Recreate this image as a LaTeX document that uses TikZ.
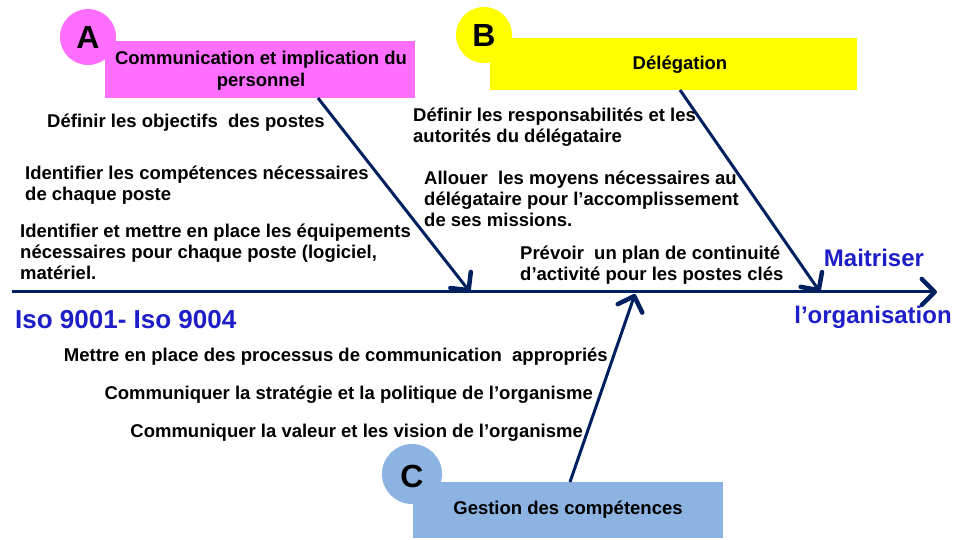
\documentclass[tikz,border=0pt]{standalone}
\usepackage{fontspec}
\setmainfont{Liberation Sans}
\usetikzlibrary{arrows.meta}
\definecolor{navy}{RGB}{0,32,96}
\definecolor{tblue}{RGB}{30,30,200}
\definecolor{pinkA}{RGB}{255,110,255}
\definecolor{yelB}{RGB}{255,255,0}
\definecolor{blueC}{RGB}{141,179,226}
\tikzset{
  bone/.style={navy,line width=3pt,-{Straight Barb[length=13pt,width=26pt,line width=4.5pt,round]}},
  txt/.style={inner sep=0pt,align=left,font=\bfseries\fontsize{18.5}{21}\selectfont},
  txtn/.style={inner sep=0pt,font=\bfseries\fontsize{18.5}{20}\selectfont},
  bluetxt/.style={inner sep=0pt,text=tblue,font=\bfseries\fontsize{24}{26}\selectfont},
  circ/.style={circle,inner sep=0pt,minimum size=56pt,font=\bfseries\fontsize{32}{32}\selectfont},
  boxtxt/.style={inner sep=0pt,align=center,font=\bfseries\fontsize{18.5}{22}\selectfont}
}
\begin{document}
\begin{tikzpicture}[x=1pt,y=-1pt]
\useasboundingbox[fill=white] (0,0) rectangle (978,540);
% circles
\node[circ,fill=pinkA,anchor=center] (cA) at (88,37) {};
\node[circ,fill=yelB] (cB) at (484,35) {};
\node[circ,fill=blueC,minimum size=60pt] (cC) at (412,474) {};
% boxes
\fill[pinkA] (105,41) rectangle (415,98);
\fill[yelB] (490,38) rectangle (857,90);
\fill[blueC] (413,482) rectangle (723,538);
\node[circ] (lA) at (88,37) {A};
\node[circ] (lB) at (484,35) {B};
\node[circ] (lC) at (412,476) {C};
\node[boxtxt] (tA) at (261,71) {Communication et implication du\\personnel};
\node[boxtxt] (tB) at (680,65) {Délégation};
\node[boxtxt] (tC) at (568,510) {Gestion des compétences};
\coordinate (bA) at (318,98);
\coordinate (bB) at (680,90);
\coordinate (bC) at (570,482);
% spine
\coordinate (s0) at (12,292);
\coordinate (s1) at (937,292);
\coordinate (hA) at (470,292);
\coordinate (hB) at (820,292);
\coordinate (hC) at (635,294);
\draw[bone] (s0) -- (s1);
\draw[bone] (bA) -- (hA);
\draw[bone] (bB) -- (hB);
\draw[bone] (bC) -- (hC);
% texts A
\node[txt,anchor=west] (a1) at (47,123) {Définir les objectifs~ des postes};
\node[txt,anchor=west] (a2) at (25,185.5) {Identifier les compétences nécessaires\\de chaque poste};
\node[txt,anchor=west] (a3) at (20,252) {Identifier et mettre en place les équipements\\nécessaires pour chaque poste (logiciel,\\matériel.};
% texts B
\node[txt,anchor=west] (b1) at (413,127) {Définir les responsabilités et les\\autorités du délégataire};
\node[txt,anchor=west] (b2) at (424,198.5) {Allouer~ les moyens nécessaires au\\délégataire pour l’accomplissement\\de ses missions.};
\node[txt,anchor=west] (b3) at (520,265) {Prévoir~ un plan de continuité\\d'activité pour les postes clés};
% blue
\node[bluetxt] (m1) at (874,258) {Maitriser};
\node[bluetxt] (m2) at (873,317) {l’organisation};
\node[bluetxt,anchor=west,font=\bfseries\fontsize{26}{28}\selectfont] (iso) at (15,320) {Iso 9001- Iso 9004};
% texts C
\node[txtn,anchor=east] (c1) at (608,357) {Mettre en place des processus de communication~ appropriés};
\node[txtn,anchor=east] (c2) at (593,395) {Communiquer la stratégie et la politique de l’organisme};
\node[txtn,anchor=east] (c3) at (583,433) {Communiquer la valeur et les vision de l’organisme};
\end{tikzpicture}
\end{document}
